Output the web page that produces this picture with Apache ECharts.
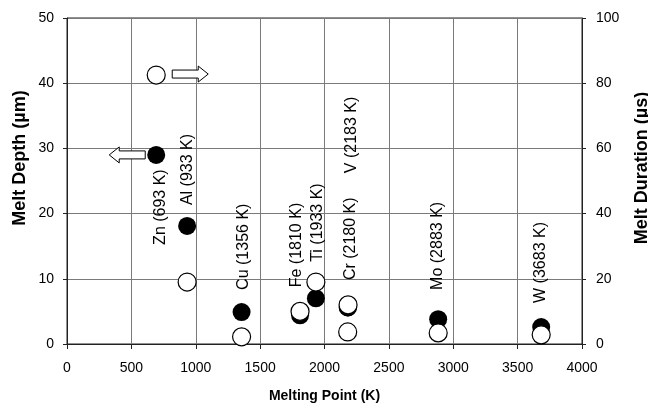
<!DOCTYPE html>
<html>
<head>
<meta charset="utf-8">
<script src="https://cdn.jsdelivr.net/npm/echarts@6/dist/echarts.min.js"></script>
<style>
  html, body { margin: 0; padding: 0; background: #fff; }
  #chart { width: 648px; height: 408px; }
</style>
</head>
<body>
<div id="chart"></div>
<script>
// element, melting point (K), melt depth (um), melt duration (us)
const elements = ['Zn', 'Al', 'Cu', 'Fe', 'Ti', 'Cr', 'V', 'Mo', 'W']
const meltingPoint = [693, 933, 1356, 1810, 1933, 2180, 2183, 2883, 3683]
const meltDepth = [29, 18.1, 4.9, 4.4, 7.0, 5.6, 5.6, 3.8, 2.6]
const meltDuration = [82.5, 19, 2.2, 10, 19, 3.7, 12, 3.4, 2.8]
// where each rotated label starts (bottom end), in melt depth units
const labelDepth = [15.2, 21.3, 8.3, 8.7, 12.6, 9.8, 26.2, 8.3, 6.3]
const labelShiftPx = [4, 0, 2, -3, 2, 3, 4, -1, -1]

const FONT = '"Liberation Sans", Arial, sans-serif'

const chart = echarts.init(document.getElementById('chart'))

const option = {
  backgroundColor: '#fff',
  animation: false,
  textStyle: { fontFamily: FONT },
  grid: {
    left: 67,
    right: 66,
    top: 18,
    bottom: 64,
    show: true,
    borderColor: '#222',
    borderWidth: 1
  },
  xAxis: {
    type: 'value',
    min: 0,
    max: 4000,
    interval: 500,
    name: 'Melting Point (K)',
    nameLocation: 'middle',
    nameGap: 45,
    nameTextStyle: { color: '#000', fontSize: 14, fontWeight: 'bold', fontFamily: FONT },
    axisLine: { lineStyle: { color: '#222' } },
    axisTick: { length: 5, lineStyle: { color: '#222' } },
    axisLabel: { color: '#000', fontSize: 14, margin: 17, fontFamily: FONT, formatter: v => String(v) },
    splitLine: { lineStyle: { color: '#7a7a7a', width: 1 } }
  },
  yAxis: [
    {
      type: 'value',
      min: 0,
      max: 50,
      interval: 10,
      position: 'left',
      axisLine: { show: true, lineStyle: { color: '#222' } },
      axisTick: { show: true, length: 4, lineStyle: { color: '#222' } },
      axisLabel: { color: '#000', fontSize: 14, margin: 13, fontFamily: FONT },
      splitLine: { lineStyle: { color: '#7a7a7a', width: 1 } }
    },
    {
      type: 'value',
      min: 0,
      max: 100,
      interval: 20,
      position: 'right',
      axisLine: { show: true, lineStyle: { color: '#222' } },
      axisTick: { show: true, length: 4, lineStyle: { color: '#222' } },
      axisLabel: { color: '#000', fontSize: 14, margin: 14, fontFamily: FONT },
      splitLine: { show: false }
    }
  ],
  series: [
    {
      name: 'Melt Depth',
      type: 'scatter',
      yAxisIndex: 0,
      symbol: 'circle',
      symbolSize: 18,
      z: 3,
      itemStyle: { color: '#000', opacity: 1 },
      data: meltingPoint.map((x, i) => [x, meltDepth[i]])
    },
    {
      name: 'Melt Duration',
      type: 'scatter',
      yAxisIndex: 1,
      symbol: 'circle',
      symbolSize: 18,
      z: 4,
      itemStyle: { color: '#fff', borderColor: '#000', borderWidth: 1.2, opacity: 1 },
      data: meltingPoint.map((x, i) => [x, meltDuration[i]])
    }
  ]
}

chart.setOption(option)

// annotations placed from the axes
const graphics = []
elements.forEach((el, i) => {
  const p = chart.convertToPixel({ gridIndex: 0 }, [meltingPoint[i], labelDepth[i]])
  graphics.push({
    type: 'text',
    x: p[0] + labelShiftPx[i],
    y: p[1],
    rotation: Math.PI / 2,
    style: {
      text: el + ' (' + meltingPoint[i] + ' K)',
      fill: '#000',
      font: '16px ' + FONT,
      textAlign: 'left',
      textVerticalAlign: 'middle'
    }
  })
})

// hollow arrows pointing to each series' axis
function arrow(cx, cy, dir) {
  const L = 36, bh = 4, hh = 8, hl = 10
  const pts = [
    [0, -bh], [L - hl, -bh], [L - hl, -hh], [L, 0],
    [L - hl, hh], [L - hl, bh], [0, bh]
  ].map(([dx, dy]) => [cx + dir * dx, cy + dy])
  return {
    type: 'polygon',
    shape: { points: pts },
    style: { fill: '#fff', stroke: '#000', lineWidth: 1 },
    z: 10
  }
}
const znOpen = chart.convertToPixel({ xAxisIndex: 0, yAxisIndex: 1 }, [meltingPoint[0], meltDuration[0]])
const znFilled = chart.convertToPixel({ xAxisIndex: 0, yAxisIndex: 0 }, [meltingPoint[0], meltDepth[0]])
graphics.push(arrow(znOpen[0] + 16, znOpen[1] - 1, 1))
graphics.push(arrow(znFilled[0] - 11, znFilled[1], -1))

// axis titles
graphics.push({
  type: 'text',
  x: 20,
  y: 158,
  rotation: Math.PI / 2,
  style: {
    text: 'Melt Depth (\u00b5m)',
    fill: '#000',
    font: 'bold 18px ' + FONT,
    textAlign: 'center',
    textVerticalAlign: 'middle'
  }
})
graphics.push({
  type: 'text',
  x: 642,
  y: 168,
  rotation: Math.PI / 2,
  style: {
    text: 'Melt Duration (\u00b5s)',
    fill: '#000',
    font: 'bold 18px ' + FONT,
    textAlign: 'center',
    textVerticalAlign: 'middle'
  }
})

chart.setOption({ graphic: graphics })
</script>
</body>
</html>
